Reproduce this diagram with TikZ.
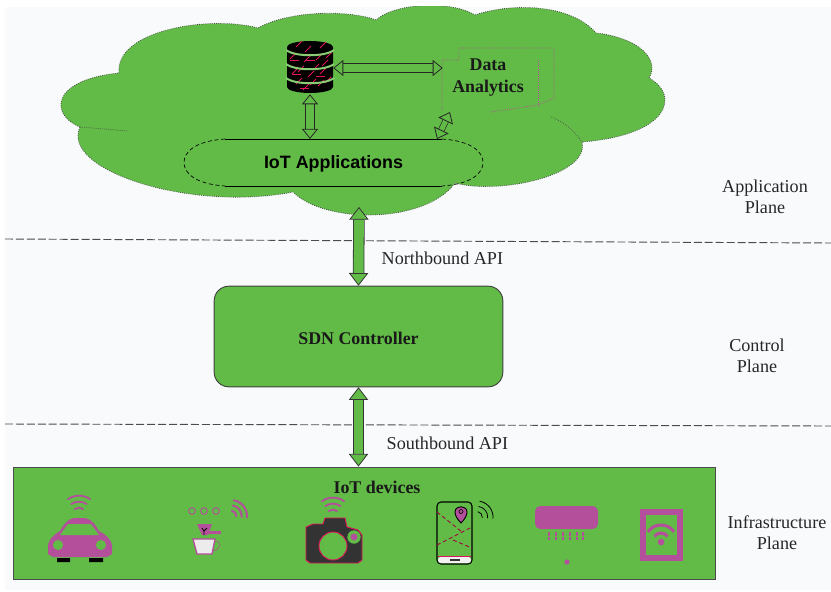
\documentclass[tikz,border=0pt]{standalone}
\usepackage{fontspec}
\setmainfont{Liberation Serif}
\newfontfamily\appfont{Liberation Sans}
\usetikzlibrary{arrows.meta}
\definecolor{gr}{HTML}{61BB46}
\definecolor{bgc}{HTML}{F8FAFC}
\definecolor{pk}{HTML}{B44F9C}
\definecolor{rd}{HTML}{E0145A}
\definecolor{dk}{HTML}{333333}
\newcommand{\wifiarcs}[3]{% centre, colour, width
  \foreach \r in {5.5pt,10pt,14.5pt}
    \draw[#2,line width=#3,line cap=round] ([shift={(#1)}]55:\r) arc[start angle=55,end angle=125,radius=\r];}
\newcommand{\cornerarcs}[3]{%
  \foreach \r in {4pt,8pt,12pt}
    \draw[#2,line width=#3,line cap=round] ([shift={(#1)}]-5:\r) arc[start angle=-5,end angle=80,radius=\r];}
\tikzset{
  planelabel/.style={align=center,font=\fontsize{13.6pt}{15.7pt}\selectfont,text=black!85},
  apilabel/.style={anchor=west,font=\fontsize{13.6pt}{15pt}\selectfont,text=black!85},
  boldlabel/.style={font=\fontsize{13.4pt}{16.5pt}\selectfont\bfseries,text=black!90},
  bigarrow/.style={draw=black!80,double=gr,double distance=7.4pt,line width=.6pt,
    {Triangle[fill=gr,length=9.5pt,width=14.5pt]}-{Triangle[fill=gr,length=9.5pt,width=14.5pt]}},
  arrowheads/.style={gr,line width=.6pt,
    {Triangle[fill=gr,color=black!85,length=7.5pt,width=12pt]}-{Triangle[fill=gr,color=black!85,length=7.5pt,width=12pt]}},
  shaftline/.style={black!85,line width=.7pt,shorten <=7pt,shorten >=7pt},
  planeline/.style={dashed,draw=black!70,line width=.7pt,dash pattern=on 6pt off 2.2pt},
  scratch/.style={rd,line width=.55pt}
}
\begin{document}
\begin{tikzpicture}[x=.75pt,y=-.75pt]
\useasboundingbox (0,0) rectangle (831,592);
\fill[white] (0,0) rectangle (831,592);
\fill[bgc] (5,7) rectangle (831,590);
% cloud
\begin{scope}
\clip (0,7) rectangle (831,592);
\draw[fill=gr,draw=black!70,line width=.6pt,densely dotted]
 (80,127) .. controls (50,115) and (50,80) .. (119,73)
 .. controls (115,30) and (210,15) .. (258,28)
 .. controls (290,10) and (350,10) .. (376,20)
 .. controls (395,3) and (450,0) .. (475,15)
 .. controls (510,3) and (570,3) .. (596,33)
 .. controls (640,38) and (660,60) .. (649,78)
 .. controls (680,95) and (670,135) .. (582,142)
 .. controls (590,175) and (500,195) .. (455,183)
 .. controls (425,224) and (325,224) .. (293,192)
 .. controls (190,212) and (60,170) .. (80,127) -- cycle;
\end{scope}
\draw[black!70,densely dotted,line width=.5pt] (80,127) -- (128,131);
\draw[black!70,densely dotted,line width=.5pt] (551,117) .. controls (565,122) and (575,132) .. (582,142);
\coordinate (cloudb) at (359,207);
% plane separators
\coordinate (s1l) at (5,239); \coordinate (s1r) at (831,243);
\coordinate (s2l) at (5,424); \coordinate (s2r) at (831,426);
\draw[planeline] (s1l) -- (s1r);
\draw[planeline] (s2l) -- (s2r);
% database
\node[minimum width=34.5pt,minimum height=39pt,inner sep=0pt] (db) at (310,68) {};
\fill[black] (287,47) arc[start angle=180,end angle=0,x radius=17.25pt,y radius=4.5pt]
  -- (333,87) arc[start angle=0,end angle=-180,x radius=17.25pt,y radius=4.5pt] -- cycle;
\foreach \x/\y in {305/52,320/48,296/47,298/72,313/70,322/66,303/90,318/86,296/84,310/85,325/83,290/59,304/62,316/60,326/58,292/74,308/77,320/74}
  \draw[scratch] (\x,\y) -- ++(6,-6);
\foreach \x/\y in {290/60,306/60,292/74,316/76,300/88}
  \draw[scratch] (\x,\y) -- ++(9,0);
\foreach \y in {50,64,78}
  \draw[gr!75!white,line width=1.5pt] (286,\y) .. controls (295,\y+7) and (325,\y+7) .. (334,\y);
% data analytics
\node[minimum width=82.5pt,minimum height=48pt,inner sep=0pt] (da) at (498,80) {};
\draw[pk,densely dotted,line width=.6pt] (442,110) -- (442,60) -- (459,60) -- (459,48) -- (554,48) -- (554,98) -- (538,105) -- (491,112);
\draw[pk,densely dotted,line width=.6pt] (538,60) -- (538,105);
\node[boldlabel,align=center] (datext) at (488,78) {Data\\Analytics};
% apps
\node[minimum width=224pt,minimum height=35pt,inner sep=0pt,text height=12pt,text depth=3pt,font=\appfont\fontsize{13.4pt}{15pt}\selectfont\bfseries] (apps) at (333.5,162.5) {IoT Applications};
\draw[black,line width=.6pt] (225,139) -- (442,139) (225,186) -- (442,186);
\draw[black,line width=.5pt,densely dashed] (225,139) .. controls (195,141) and (184,152) .. (184,162.5) .. controls (184,173) and (195,184) .. (225,186);
\draw[black,line width=.5pt,densely dashed] (442,139) .. controls (472,141) and (483,152) .. (483,162.5) .. controls (483,173) and (472,184) .. (442,186);
% controller
\node[draw=black!75,fill=gr,rounded corners=11pt,line width=.7pt,minimum width=216.5pt,minimum height=75.5pt,inner sep=0pt,boldlabel,text height=13pt,text depth=1.2pt] (ctrl) at (358.5,336.5) {SDN Controller};
% devices
\node[draw=black!70,fill=gr,line width=.7pt,minimum width=526.5pt,minimum height=84pt,inner sep=0pt] (dev) at (364,523) {};
\node[boldlabel] (devlabel) at (377,487) {IoT devices};
% arrows
\coordinate (dbr) at (db.east);
\coordinate (dal) at (db.east -| da.west);
\coordinate (dbb) at (db.south);
\coordinate (appt) at (db.south |- apps.north);
\draw[shaftline,transform canvas={yshift=3.3pt}] (dbr) -- (dal);
\draw[shaftline,transform canvas={yshift=-3.3pt}] (dbr) -- (dal);
\draw[shaftline,transform canvas={xshift=3.3pt}] (dbb) -- (appt);
\draw[shaftline,transform canvas={xshift=-3.3pt}] (dbb) -- (appt);
\draw[arrowheads] (dbr) -- (dal);
\draw[arrowheads] (dbb) -- (appt);
\coordinate (diagb) at (437,139); \coordinate (diagt) at (450,112);
\draw[black!85,line width=4.8pt,shorten <=7pt,shorten >=7pt] (diagb) -- (diagt);
\draw[gr,line width=3.8pt,shorten <=6pt,shorten >=6pt] (diagb) -- (diagt);
\draw[arrowheads] (diagb) -- (diagt);
\draw[bigarrow] (cloudb) -- (ctrl.north);
\draw[bigarrow] (ctrl.south) -- (ctrl.south |- dev.north);
% labels
\node[planelabel] (lapp) at (765,196.5) {Application\\Plane};
\node[planelabel] (lctl) at (757,355.5) {Control\\Plane};
\node[planelabel] (linf) at (777,532.5) {Infrastructure\\Plane};
\node[apilabel] (lnb) at (377,258) {Northbound API};
\node[apilabel] (lsb) at (382,443) {Southbound API};
% car
\wifiarcs{79,515}{pk}{1.4pt}
\fill[pk] (74,518) -- (85,518) .. controls (92,519) and (96,526) .. (99,531) .. controls (106,535) and (112,539) .. (112,547) -- (112,554) -- (107,557) -- (53,557) -- (48,554) -- (48,547) .. controls (48,539) and (54,535) .. (60,531) .. controls (63,526) and (67,519) .. (74,518) -- cycle;
\fill[gr] (60,535) -- (99,535) -- (91,524) -- (68,524) -- cycle;
\fill[gr] (58,545) circle[radius=3.8pt] (101,545) circle[radius=3.8pt];
\fill[black] (57,558) rectangle (70,562) (89,558) rectangle (103,562);
% coffee machine
\foreach \x in {192,204,216} \draw[pk,line width=.7pt] (\x,511) circle[radius=2.5pt];
\cornerarcs{231,516}{pk}{1.5pt}
\fill[pk] (197,524) -- (212,524) -- (208,535) -- (202,535) -- cycle;
\fill[pk] (208,531) rectangle (221,534);
\draw[black,line width=.6pt] (202,528) -- (204,531) -- (207,528) (204,531) -- (204,535);
\draw[pk,line width=1pt,fill=white!85!gray] (193,539) -- (215,539) -- (212,554) -- (197,554) -- cycle;
\draw[pk,line width=.4pt] (215,541) .. controls (222,541) and (222,549) .. (213,551);
% camera
\wifiarcs{333,517}{pk}{1.4pt}
\draw[rd,line width=.7pt,fill=dk] (306,527) -- (313,524) -- (323,524) -- (325,518) -- (345,518) -- (347,527) -- (358,530) -- (362,535) -- (362,560) -- (358,563) -- (310,563) -- (306,560) -- cycle;
\draw[rd,line width=.7pt,fill=gr] (333,546) circle[radius=10.5pt];
\fill[gr] (354,537) circle[radius=5pt];
\fill[pk] (354,537) circle[radius=2.6pt];
% phone
\draw[black,line width=.8pt,fill=gr,rounded corners=3pt] (437,502) rectangle (472,564);
\draw[rd!70!black,line width=.7pt,densely dashed] (437,512) -- (462,532) (437,545) -- (472,527) (453,540) -- (472,548);
\draw[black,line width=.7pt,fill=pk] (461,523) .. controls (456,518) and (455,514) .. (455,512) .. controls (455,505) and (467,505) .. (467,512) .. controls (467,514) and (466,518) .. (461,523) -- cycle;
\draw[black,line width=.5pt] (461,511.5) circle[radius=1.5pt];
\fill[white!90!gray,rounded corners=2pt] (438,557) rectangle (471,563);
\draw[rd,line width=.6pt] (438,556) -- (471,556);
\fill[black!80] (450,559.3) rectangle (460,561);
\cornerarcs{477,517}{black}{.6pt}
% air conditioner
\fill[pk,rounded corners=4pt] (535,506) rectangle (598,529);
\foreach \x in {549,556,563,570,577,583} \draw[pk,line width=1.4pt,dash pattern=on 3pt off .6pt] (\x,532) -- (\x,540);
\fill[pk] (567,562) circle[radius=1.9pt];
% tablet
\draw[pk,line width=4.6pt] (643,512) rectangle (680,558);
\foreach \r in {6pt,12pt}
  \draw[pk,line width=2.3pt] ([shift={(661,541)}]35:\r) arc[start angle=35,end angle=145,radius=\r];
\fill[pk] (661,542) circle[radius=2.5pt];
\end{tikzpicture}
\end{document}
